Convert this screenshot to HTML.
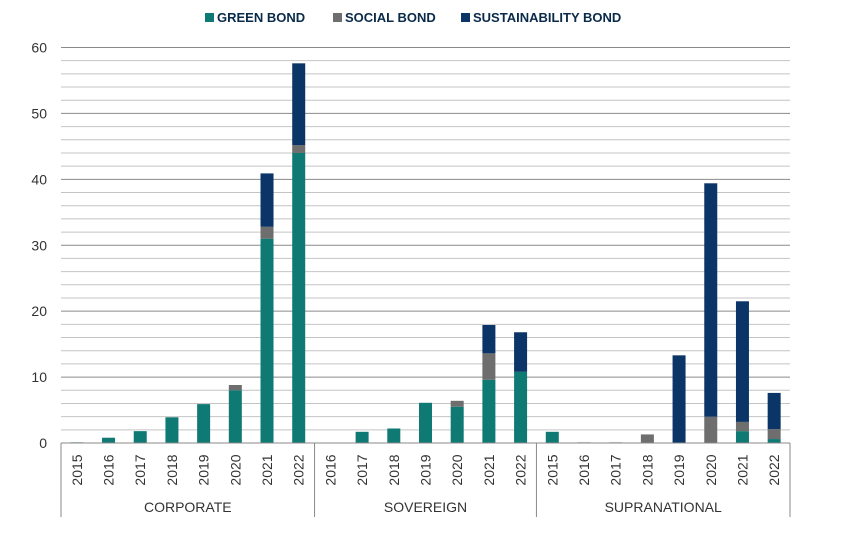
<!DOCTYPE html>
<html><head><meta charset="utf-8"><style>
body{margin:0;background:#fff;font-family:"Liberation Sans",sans-serif}
svg text{font-family:"Liberation Sans",sans-serif}
</style></head><body>
<svg id="c" width="847" height="544">
<g id="legend">
<g><rect x="205" y="13" width="9" height="9" fill="#0f7a73"/><text x="217" y="22" font-size="13" font-weight="bold" fill="#0a2a4a">GREEN BOND</text></g>
<g><rect x="333" y="13" width="9" height="9" fill="#6e6e6e"/><text x="345" y="22" font-size="13" font-weight="bold" fill="#0a2a4a">SOCIAL BOND</text></g>
<g><rect x="461" y="13" width="9" height="9" fill="#0a3566"/><text x="473" y="22" font-size="13" font-weight="bold" fill="#0a2a4a">SUSTAINABILITY BOND</text></g>
</g>
</svg>
<script>
const groups=["CORPORATE","SOVEREIGN","SUPRANATIONAL"];
const years=["2015","2016","2017","2018","2019","2020","2021","2022","2016","2017","2018","2019","2020","2021","2022","2015","2016","2017","2018","2019","2020","2021","2022"];
const groupOf=[0,0,0,0,0,0,0,0,1,1,1,1,1,1,1,2,2,2,2,2,2,2,2];
const green=[0.1,0.8,1.8,3.9,5.9,8,31,44,0,1.7,2.2,6.1,5.5,9.6,10.8,1.7,0,0,0,0,0,1.8,0.6];
const social=[0,0,0,0,0,0.8,1.8,1.2,0,0,0,0,0.9,4,0,0,0.1,0.1,1.3,0,4,1.4,1.5];
const sust=[0,0,0,0,0,0,8.1,12.4,0,0,0,0,0,4.3,6,0,0,0,0,13.3,35.4,18.3,5.5];
const yTicks=[0,10,20,30,40,50,60];
const svg=document.getElementById('c'),NS="http://www.w3.org/2000/svg";
const x0=61,x1=790,y0=443,yTop=47.5,yMax=60;
const y=v=>y0-(v/yMax)*(y0-yTop);
const slot=(x1-x0)/years.length;
const xc=i=>x0+slot*(i+0.5);
function mk(t,a,p){const e=document.createElementNS(NS,t);for(const k in a)e.setAttribute(k,a[k]);(p||svg).appendChild(e);return e;}
const grid=mk('g',{});


for(let v=2;v<=yMax;v+=2){const l=mk('line',{x1:x0,x2:x1,y1:y(v),y2:y(v),stroke:v%10==0?'#8a8a8a':'#c4c4c4','stroke-width':1},grid);}
yTicks.forEach(v=>{const t=mk('text',{x:47,y:y(v)+5,'text-anchor':'end','font-size':14,fill:'#333'});t.textContent=v;});
const series=[[green,'#0f7a73','green'],[social,'#6e6e6e','social'],[sust,'#0a3566','sustainability']];
years.forEach((yr,i)=>{let base=0;series.forEach(([arr,col,nm])=>{const v=arr[i];if(v>0){const r=mk('rect',{x:xc(i)-6.5,width:13,y:y(base+v),height:y(base)-y(base+v),fill:col});}base+=v;});
const t=mk('text',{transform:`translate(${xc(i)+5},${470}) rotate(-90)`,'text-anchor':'middle','font-size':14,fill:'#333'});t.textContent=yr;});
const ax=mk('line',{x1:x0,x2:x1,y1:y0,y2:y0,stroke:'#888'});


let bounds=[0];groupOf.forEach((g,i)=>{if(i>0&&g!==groupOf[i-1])bounds.push(i);});bounds.push(years.length);
bounds.forEach(b=>{const l=mk('line',{x1:x0+b*slot,x2:x0+b*slot,y1:y0,y2:517,stroke:'#888'});});
groups.forEach((g,k)=>{const m=(x0+bounds[k]*slot+x0+bounds[k+1]*slot)/2;const t=mk('text',{x:m,y:512,'text-anchor':'middle','font-size':14,fill:'#333'});t.textContent=g;});
</script>
</body></html>
